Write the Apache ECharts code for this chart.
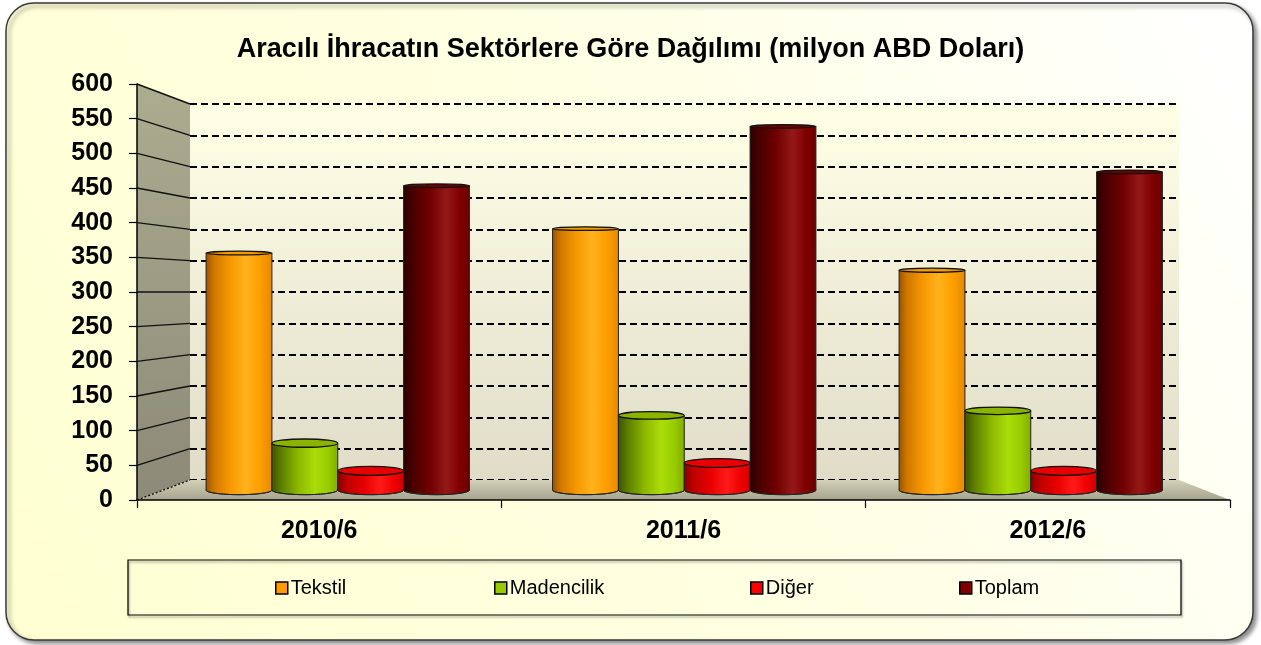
<!DOCTYPE html>
<html>
<head>
<meta charset="utf-8">
<title>Aracılı İhracatın Sektörlere Göre Dağılımı</title>
<script src="https://cdn.jsdelivr.net/npm/echarts@6/dist/echarts.min.js"></script>
<style>
html, body { margin: 0; padding: 0; background: #fff; }
#main { width: 1261px; height: 645px; }
</style>
</head>
<body>
<div id="main"></div>
<script>
// veriler (milyon ABD Doları)
var donemler = ['2010/6', '2011/6', '2012/6'];
var tekstil = [359, 396, 333];
var madencilik = [71, 113, 120];
var diger = [29, 41, 29];
var toplam = [461, 551, 482];
var yTicks = [0, 50, 100, 150, 200, 250, 300, 350, 400, 450, 500, 550, 600];

var seriAdlari = ['Tekstil', 'Madencilik', 'Diğer', 'Toplam'];
var seriVerileri = [tekstil, madencilik, diger, toplam];
var renkler = ['#FF9900', '#99CC00', '#FF0000', '#800000'];

// silindir gölgeleri
var govde = [
    [[0, '#9c5400'], [0.12, '#d07800'], [0.35, '#f59600'], [0.6, '#ffb21c'], [0.8, '#ffa000'], [1, '#e68a00']],
    [[0, '#3d5500'], [0.15, '#5e8000'], [0.4, '#8cb800'], [0.65, '#aadd0a'], [0.85, '#9acd00'], [1, '#82ad00']],
    [[0, '#8a0000'], [0.15, '#c00000'], [0.4, '#e80000'], [0.65, '#ff1a1a'], [0.85, '#f00000'], [1, '#d00000']],
    [[0, '#2a0000'], [0.15, '#4a0000'], [0.4, '#700000'], [0.65, '#951818'], [0.85, '#800000'], [1, '#6a0000']]
];
var kapak = ['#f09a00', '#8ab400', '#e80000', '#6e0000'];

var chart = echarts.init(document.getElementById('main'));

// duvar/zemin yerleşimi
var onSol = 137, onSag = 1230, arkaSol = 190, arkaSag = 1179;

function grad(stops) {
    return new echarts.graphic.LinearGradient(0, 0, 1, 0, stops.map(function (s) {
        return { offset: s[0], color: s[1] };
    }));
}

function silindir(i) {
    return function (params, api) {
        var cat = api.value(0), v = api.value(1);
        var p0 = api.coord([cat, 0]);
        var p1 = api.coord([cat, v]);
        var band = api.size([1, 0])[0];
        var w = band * 0.19;
        var cx = p0[0] + (i - 1.5) * w;
        var x = cx - w / 2;
        var ryTop = Math.max(1.8, (p1[1] - 100) * 0.012);
        var ryBot = Math.max(1.8, (p0[1] - 100) * 0.012);
        return {
            type: 'group',
            children: [
                { type: 'ellipse', shape: { cx: cx, cy: p0[1], rx: w / 2, ry: ryBot },
                  style: { fill: grad(govde[i]), stroke: '#222', lineWidth: 1 } },
                { type: 'rect', shape: { x: x, y: p1[1], width: w, height: p0[1] - p1[1] },
                  style: { fill: grad(govde[i]) } },
                { type: 'line', shape: { x1: x, y1: p1[1], x2: x, y2: p0[1] },
                  style: { stroke: '#222', lineWidth: 1 } },
                { type: 'line', shape: { x1: x + w, y1: p1[1], x2: x + w, y2: p0[1] },
                  style: { stroke: '#222', lineWidth: 1 } },
                { type: 'ellipse', shape: { cx: cx, cy: p1[1], rx: w / 2, ry: ryTop },
                  style: { fill: kapak[i], stroke: '#111', lineWidth: 1.3 } }
            ]
        };
    };
}

var lejantX = [275, 494, 750, 959];

var option = {
    backgroundColor: '#fff',
    animation: false,
    title: {
        text: 'Aracılı İhracatın Sektörlere Göre Dağılımı (milyon ABD Doları)',
        left: 'center',
        top: 31,
        textStyle: { fontFamily: 'Arial', fontSize: 27, fontWeight: 'bold', color: '#000' }
    },
    legend: seriAdlari.map(function (ad, i) {
        return {
            data: [ad],
            left: lejantX[i],
            top: 578,
            padding: 0,
            icon: 'rect',
            itemWidth: 12,
            itemHeight: 12,
            itemGap: 0,
            selectedMode: false,
            itemStyle: { borderColor: '#000', borderWidth: 1.5 },
            textStyle: { fontFamily: 'Arial', fontSize: 20, color: '#000', padding: [0, 0, 0, -2] }
        };
    }),
    grid: [
        // ön eksen
        { left: onSol, right: 1261 - onSag, top: 84, bottom: 145 },
        // arka duvar
        { left: arkaSol, right: 1261 - arkaSag, top: 104, bottom: 165, show: true, borderWidth: 0,
          backgroundColor: new echarts.graphic.LinearGradient(0, 0, 0, 1, [
              { offset: 0, color: '#ffffe6' }, { offset: 1, color: '#e0dcc8' }
          ]) },
        // silindirler
        { left: 164.5, right: 57, top: 94, bottom: 155 }
    ],
    xAxis: [
        { type: 'category', gridIndex: 0, data: donemler, z: 3,
          axisLine: { lineStyle: { color: '#000', width: 1.5 } },
          axisTick: { show: true, length: 8, lineStyle: { color: '#000', width: 1.2 } },
          axisLabel: { margin: 19, fontFamily: 'Arial', fontSize: 25, fontWeight: 'bold', color: '#000' } },
        { type: 'category', gridIndex: 1, data: donemler, show: false },
        { type: 'category', gridIndex: 2, data: donemler, show: false }
    ],
    yAxis: [
        { type: 'value', gridIndex: 0, min: 0, max: 600, interval: 50, z: 3,
          axisLine: { show: true, lineStyle: { color: '#000', width: 1.5 } },
          axisTick: { show: true, length: 8, lineStyle: { color: '#000', width: 1.2 } },
          axisLabel: { margin: 24, fontFamily: 'Arial', fontSize: 25, fontWeight: 'bold', color: '#000' },
          splitLine: { show: false } },
        { type: 'value', gridIndex: 1, min: 0, max: 600, interval: 50,
          axisLine: { show: false }, axisTick: { show: false }, axisLabel: { show: false },
          splitLine: { show: true, lineStyle: { color: '#000', width: 2, type: [7, 4] } } },
        { type: 'value', gridIndex: 2, min: 0, max: 600, show: false, splitLine: { show: false } }
    ],
    series: seriAdlari.map(function (ad, i) {
        return {
            name: ad,
            type: 'custom',
            xAxisIndex: 2,
            yAxisIndex: 2,
            z: 4,
            itemStyle: { color: renkler[i] },
            renderItem: silindir(i),
            encode: { x: 0, y: 1 },
            data: seriVerileri[i].map(function (v, k) { return [k, v]; })
        };
    })
};

chart.setOption(option);

// yan duvar, zemin ve kutular
var yOn = function (v) { return chart.convertToPixel({ yAxisIndex: 0 }, v); };
var yArka = function (v) { return chart.convertToPixel({ yAxisIndex: 1 }, v); };

var sekiller = [
    { type: 'rect', z: -5, silent: true,
      shape: { x: 6, y: 3, width: 1247, height: 637, r: 28 },
      style: {
          fill: new echarts.graphic.LinearGradient(1, 0, 0, 1, [
              { offset: 0, color: '#ffffff' }, { offset: 0.45, color: '#ffffe4' }, { offset: 1, color: '#ffffd2' }
          ]),
          stroke: '#3a3a3a', lineWidth: 1.5,
          shadowBlur: 4, shadowOffsetX: 3, shadowOffsetY: 3, shadowColor: 'rgba(0,0,0,0.45)'
      } },
    { type: 'polygon', z: 1, silent: true,
      shape: { points: [[onSol, yOn(600)], [arkaSol, yArka(600)], [arkaSol, yArka(0)], [onSol, yOn(0)]] },
      style: { fill: new echarts.graphic.LinearGradient(0, 0, 0, 1, [
          { offset: 0, color: '#acac8f' }, { offset: 1, color: '#8c8a78' }
      ]) } },
    { type: 'polygon', z: 1, silent: true,
      shape: { points: [[onSol, yOn(0)], [arkaSol, yArka(0)], [arkaSag, yArka(0)], [onSag, yOn(0)]] },
      style: { fill: new echarts.graphic.LinearGradient(0, 0, 0, 1, [
          { offset: 0, color: '#d2d0b6' }, { offset: 1, color: '#a6a48e' }
      ]) } },
    { type: 'rect', z: 1, silent: true,
      shape: { x: 128, y: 560, width: 1053, height: 55 },
      style: { fill: 'rgba(0,0,0,0)', stroke: '#000', lineWidth: 1.2,
               shadowBlur: 2, shadowOffsetX: 1, shadowOffsetY: 2, shadowColor: 'rgba(0,0,0,0.4)' } }
];

yTicks.forEach(function (v) {
    sekiller.push({
        type: 'line', z: 2, silent: true,
        shape: { x1: onSol, y1: yOn(v), x2: arkaSol, y2: yArka(v) },
        style: { stroke: '#111', lineWidth: 1.4, lineDash: v === 0 ? [2, 2] : null }
    });
});

chart.setOption({ graphic: { elements: sekiller } });
</script>
</body>
</html>
